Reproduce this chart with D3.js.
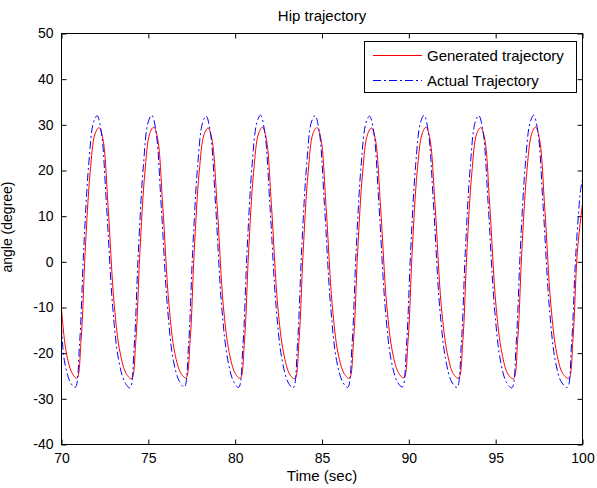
<!DOCTYPE html>
<html>
<head>
<meta charset="utf-8">
<script src="https://cdn.jsdelivr.net/npm/d3@7"></script>
<style>
html, body { margin: 0; padding: 0; background: #fff; }
svg { display: block; }
text { font-family: "Liberation Sans", Arial, sans-serif; fill: #000; }
</style>
</head>
<body>
<svg id="chart" width="597" height="488"></svg>
<script>
// ---- data ----
const titleText = "Hip trajectory";
const xLabel = "Time (sec)";
const yLabel = "angle (degree)";
const seriesNames = ["Generated trajectory", "Actual Trajectory"];
const xTicks = [70, 75, 80, 85, 90, 95, 100];
const yTicks = [-40, -30, -20, -10, 0, 10, 20, 30, 40, 50];

const redT = [70.00,70.26,70.60,
70.88,71.13,71.36,71.65,71.93,72.16,72.38,72.68,73.04,73.38,73.73,
74.03,74.28,74.51,74.80,75.08,75.31,75.53,75.83,76.19,76.53,76.88,
77.16,77.41,77.64,77.93,78.21,78.44,78.66,78.96,79.32,79.66,80.01,
80.29,80.54,80.77,81.06,81.34,81.57,81.79,82.09,82.45,82.79,83.14,
83.43,83.68,83.91,84.20,84.48,84.71,84.93,85.23,85.59,85.93,86.28,
86.57,86.82,87.05,87.34,87.62,87.85,88.07,88.37,88.73,89.07,89.42,
89.71,89.96,90.19,90.48,90.76,90.99,91.21,91.51,91.87,92.21,92.56,
92.86,93.11,93.34,93.63,93.91,94.14,94.36,94.66,95.02,95.36,95.71,
96.02,96.27,96.50,96.79,97.07,97.30,97.52,97.82,98.18,98.52,98.87,
99.20,99.45,99.70,100.00];
const redV = [-10.3,-19.5,-24.3,
-25.5,-17.0,2.0,19.6,28.0,29.4,27.0,12.3,-9.6,-20.0,-24.5,
-25.6,-17.2,1.8,19.5,28.1,29.5,27.1,12.2,-9.5,-20.1,-24.4,
-25.4,-17.0,2.1,19.7,27.9,29.3,26.9,12.4,-9.7,-19.9,-24.5,
-25.5,-17.1,2.0,19.6,28.0,29.5,27.0,12.3,-9.6,-20.0,-24.6,
-25.6,-17.0,1.9,19.5,28.1,29.4,27.1,12.3,-9.5,-20.1,-24.5,
-25.5,-17.1,2.0,19.6,27.9,29.3,26.9,12.2,-9.6,-20.0,-24.4,
-25.4,-17.0,2.1,19.7,28.0,29.5,27.0,12.4,-9.7,-19.9,-24.5,
-25.5,-17.2,2.0,19.6,28.1,29.4,27.1,12.3,-9.6,-20.0,-24.6,
-25.6,-17.0,1.9,19.5,28.0,29.5,27.0,12.2,-9.5,-20.1,-24.5,
-25.5,-17.0,2.0,12.8];

const blueT = [70.00,70.16,70.50,
70.79,71.04,71.27,71.56,71.84,72.05,72.29,72.59,72.95,73.29,73.64,
73.94,74.19,74.42,74.71,74.99,75.20,75.44,75.74,76.10,76.44,76.79,
77.07,77.32,77.55,77.84,78.12,78.33,78.57,78.87,79.23,79.57,79.92,
80.20,80.45,80.68,80.97,81.25,81.46,81.70,82.00,82.36,82.70,83.05,
83.34,83.59,83.82,84.11,84.39,84.60,84.84,85.14,85.50,85.84,86.19,
86.48,86.73,86.96,87.25,87.53,87.74,87.98,88.28,88.64,88.98,89.33,
89.62,89.87,90.10,90.39,90.67,90.88,91.12,91.42,91.78,92.12,92.47,
92.77,93.02,93.25,93.54,93.82,94.03,94.27,94.57,94.93,95.27,95.62,
95.93,96.18,96.41,96.70,96.98,97.19,97.43,97.73,98.09,98.43,98.78,
99.12,99.37,99.62,99.90,100.00];
const blueV = [-14.0,-21.5,-26.3,
-27.5,-18.0,2.0,21.0,30.5,32.0,28.5,12.5,-10.0,-21.5,-26.3,
-27.6,-18.2,1.8,20.8,30.6,32.1,28.6,12.4,-9.9,-21.6,-26.2,
-27.4,-18.0,2.1,21.1,30.4,31.9,28.4,12.6,-10.1,-21.4,-26.3,
-27.5,-18.1,2.0,21.0,30.5,32.1,28.5,12.5,-10.0,-21.5,-26.4,
-27.6,-18.0,1.9,20.9,30.6,32.0,28.6,12.5,-9.9,-21.6,-26.3,
-27.5,-18.1,2.0,21.0,30.4,31.9,28.4,12.4,-10.0,-21.5,-26.2,
-27.4,-18.0,2.1,21.1,30.5,32.1,28.5,12.6,-10.1,-21.4,-26.3,
-27.5,-18.2,2.0,21.0,30.6,32.0,28.6,12.5,-10.0,-21.5,-26.4,
-27.6,-18.0,1.9,20.9,30.5,32.1,28.5,12.4,-9.9,-21.6,-26.3,
-27.5,-18.0,2.0,16.0,18.0];

// ---- layout ----
const L = 61.5, R = 582.5, T = 33.5, B = 444.5;
const svg = d3.select("#chart");
const x = d3.scaleLinear().domain([70, 100]).range([L, R]);
const y = d3.scaleLinear().domain([-40, 50]).range([B, T]);

svg.append("defs").append("clipPath").attr("id", "clip")
  .append("rect").attr("x", L).attr("y", T).attr("width", R - L).attr("height", B - T);

// axes box (ticks inside)
const tickLen = 5;
const fmt = d => String(d);
const axB = d3.axisBottom(x).tickValues(xTicks).tickSize(-tickLen).tickPadding(tickLen + 4).tickFormat(fmt);
const axL = d3.axisLeft(y).tickValues(yTicks).tickSize(-tickLen).tickPadding(tickLen + 3).tickFormat(fmt);
const axT = d3.axisTop(x).tickValues(xTicks).tickSize(-tickLen).tickFormat("");
const axR = d3.axisRight(y).tickValues(yTicks).tickSize(-tickLen).tickFormat("");

function style(g) {
  g.select(".domain").remove();
  g.selectAll(".tick line").attr("stroke", "#000");
  g.selectAll(".tick text").style("font-family", '"Liberation Sans", Arial, sans-serif').style("font-size", "14px").attr("fill", "#000");
}
svg.append("g").attr("transform", `translate(0,${B})`).call(axB).call(style);
svg.append("g").attr("transform", `translate(${L},0)`).call(axL).call(style);
svg.append("g").attr("transform", `translate(0,${T})`).call(axT).call(style);
svg.append("g").attr("transform", `translate(${R},0)`).call(axR).call(style);

// data lines
const line = d3.line().x(d => x(d[0])).y(d => y(d[1])).curve(d3.curveCatmullRom.alpha(0.5));
const blueData = blueT.map((t, i) => [t, blueV[i]]);
const redData = redT.map((t, i) => [t, redV[i]]);
const plot = svg.append("g").attr("clip-path", "url(#clip)");
plot.append("path").datum(redData).attr("d", line)
  .attr("fill", "none").attr("stroke", "#ff0000").attr("stroke-width", 1);
plot.append("path").datum(blueData).attr("d", line)
  .attr("fill", "none").attr("stroke", "#0000ff").attr("stroke-width", 1)
  .attr("stroke-dasharray", "8,3,2,3");

// frame
svg.append("rect").attr("x", L).attr("y", T).attr("width", R - L).attr("height", B - T)
  .attr("fill", "none").attr("stroke", "#000").attr("stroke-width", 1);

// title & labels
svg.append("text").attr("x", (L + R) / 2).attr("y", 20.5).attr("text-anchor", "middle")
  .style("font-size", "15px").text(titleText);
svg.append("text").attr("x", (L + R) / 2).attr("y", 481).attr("text-anchor", "middle")
  .style("font-size", "15px").text(xLabel);
svg.append("text").attr("transform", `translate(12,227) rotate(-90)`).attr("text-anchor", "middle")
  .style("font-size", "14px").text(yLabel);

// legend
const lg = svg.append("g");
lg.append("rect").attr("x", 364.5).attr("y", 41.5).attr("width", 212).attr("height", 51)
  .attr("fill", "#fff").attr("stroke", "#000").attr("stroke-width", 1);
const colors = ["#ff0000", "#0000ff"];
const dashes = [null, "8,3,2,3"];
seriesNames.forEach((name, i) => {
  const yy = 55.5 + i * 25;
  lg.append("line").attr("x1", 373).attr("x2", 422).attr("y1", yy).attr("y2", yy)
    .attr("stroke", colors[i]).attr("stroke-width", 1).attr("stroke-dasharray", dashes[i]);
  lg.append("text").attr("x", 427).attr("y", yy + 5.5).style("font-size", "15px").text(name);
});
</script>
</body>
</html>
